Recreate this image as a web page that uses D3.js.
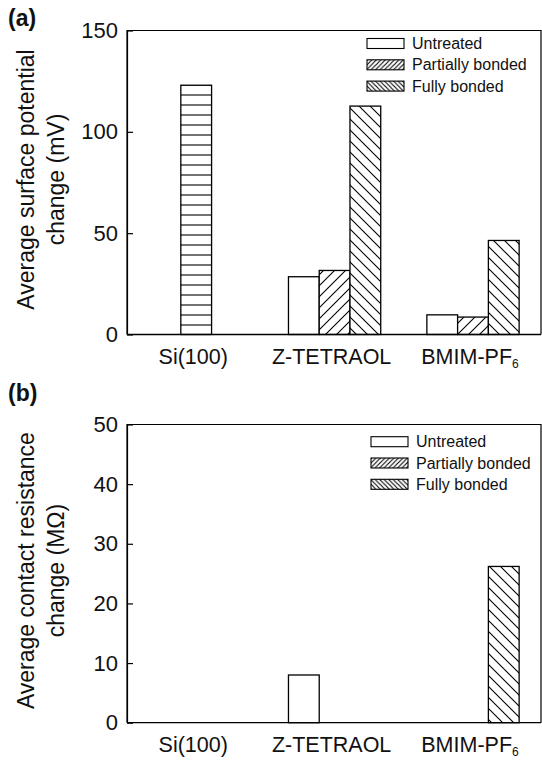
<!DOCTYPE html>
<html>
<head>
<meta charset="utf-8">
<script src="https://cdn.jsdelivr.net/npm/d3@7"></script>
<style>
  html, body { margin: 0; padding: 0; background: #fff; }
  svg { display: block; font-family: "Liberation Sans", Arial, sans-serif; }
</style>
</head>
<body>
<svg id="chart" width="542" height="760"></svg>
<script>
// Sample groups along the x axis
const categories = ["Si(100)", "Z-TETRAOL", "BMIM-PF6"];
const series = ["Untreated", "Partially bonded", "Fully bonded"];

// (a) Average surface potential change, mV
const potentialBareSi = [123, null, null];
const potentialUntreated = [null, 28.5, 9.7];
const potentialPartial = [null, 31.6, 8.6];
const potentialFully = [null, 112.7, 46.4];
const potentialTicks = [0, 50, 100, 150];

// (b) Average contact resistance change, MΩ
const resistanceBareSi = [0, null, null];
const resistanceUntreated = [null, 8.0, 0];
const resistancePartial = [null, 0, 0];
const resistanceFully = [null, 0, 26.2];
const resistanceTicks = [0, 10, 20, 30, 40, 50];

const FONT = "Liberation Sans, Arial, sans-serif";
const svg = d3.select("#chart");
const defs = svg.append("defs");

// Hatch fills: horizontal (bare Si), "/" (partially bonded), "\" (fully bonded)
function hatch(id, size, kind) {
  const p = defs.append("pattern")
    .attr("id", id)
    .attr("patternUnits", "userSpaceOnUse")
    .attr("width", size).attr("height", size);
  p.append("rect").attr("width", size).attr("height", size).attr("fill", "#fff");
  let d;
  if (kind === "h") d = `M0,${size / 2}H${size}`;
  else if (kind === "f") d = `M${-size},${size}L${size},${-size}M0,${2 * size}L${2 * size},0M0,${size}L${size},0`;
  else d = `M${-size},0L${size},${2 * size}M0,${-size}L${2 * size},${size}M0,0L${size},${size}`;
  p.append("path").attr("d", d).attr("stroke", "#000").attr("stroke-width", 1.1).attr("fill", "none");
  return `url(#${id})`;
}
const fills = {
  bare: hatch("hBare", 10, "h"),
  "Untreated": "#fff",
  "Partially bonded": hatch("hPart", 11, "f"),
  "Fully bonded": hatch("hFull", 11, "b")
};
const legendFills = {
  "Untreated": "#fff",
  "Partially bonded": hatch("lPart", 4.5, "f"),
  "Fully bonded": hatch("lFull", 4.5, "b")
};

const left = 127, right = 541;
const x = d3.scaleBand().domain(categories).range([left, left + 3 * 138.4]).padding(0);
const xs = d3.scaleBand().domain(series).range([0, x.bandwidth()]).paddingInner(0).paddingOuter(0.75);

function panel(cfg) {
  const y = d3.scaleLinear().domain([0, cfg.max]).range([cfg.bottom, cfg.top]);
  const g = svg.append("g");

  // bars
  const rows = [];
  categories.forEach((c, i) => {
    if (cfg.bare[i] != null) rows.push({ c, s: "Partially bonded", v: cfg.bare[i], fill: fills.bare });
    series.forEach((s, k) => {
      const v = cfg.values[k][i];
      if (v != null) rows.push({ c, s, v, fill: fills[s] });
    });
  });
  g.selectAll("rect.bar").data(rows).join("rect")
    .attr("class", "bar")
    .attr("x", d => x(d.c) + xs(d.s))
    .attr("width", xs.bandwidth())
    .attr("y", d => y(d.v))
    .attr("height", d => y(0) - y(d.v))
    .attr("fill", d => d.fill)
    .attr("stroke", "#000")
    .attr("stroke-width", 1.3);

  // frame
  g.append("path")
    .attr("d", `M${left},${cfg.bottom}V${cfg.top}H${right}V${cfg.bottom}`)
    .attr("fill", "none").attr("stroke", "#000").attr("stroke-width", 1.2);

  // y axis
  const ay = g.append("g").attr("transform", `translate(${left},0)`)
    .call(d3.axisLeft(y).tickValues(cfg.ticks).tickSizeInner(-6).tickSizeOuter(0).tickPadding(9));
  ay.select(".domain").attr("stroke", "#000").attr("stroke-width", 1.2);
  ay.selectAll(".tick line").attr("stroke", "#000").attr("stroke-width", 1.2);
  ay.selectAll(".tick text").attr("font-size", 22).attr("fill", "#111").attr("font-family", FONT);

  // x axis (labels only)
  const ax = g.append("g").attr("transform", `translate(0,${cfg.bottom})`)
    .call(d3.axisBottom(x).tickSize(0).tickFormat(""));
  ax.select(".domain").attr("stroke", "#000").attr("stroke-width", 1.3).attr("d", `M${left},0H${right}`);
  ax.selectAll(".tick").each(function (c) {
    const t = d3.select(this).append("text")
      .attr("x", -3).attr("y", 29).attr("fill", "#111").attr("text-anchor", "middle")
      .attr("font-size", 21.5).attr("font-family", FONT);
    if (c.endsWith("6")) {
      t.append("tspan").text(c.slice(0, -1));
      t.append("tspan").text("6").attr("font-size", 12).attr("dy", 4);
    } else t.text(c);
  });

  // y title
  const cy = (cfg.top + cfg.bottom) / 2 - 3;
  cfg.title.forEach((line, i) => {
    g.append("text")
      .attr("transform", `translate(${34 + i * 30},${cy}) rotate(-90)`)
      .attr("text-anchor", "middle").attr("font-size", 23).attr("fill", "#111")
      .text(line);
  });

  // panel letter
  g.append("text").attr("x", 8).attr("y", cfg.letterY)
    .attr("font-size", 23).attr("font-weight", "bold").attr("fill", "#111")
    .text(cfg.letter);

  // legend
  const lg = g.append("g").attr("transform", `translate(${cfg.legendX},${cfg.legendY})`);
  series.forEach((s, k) => {
    const r = lg.append("g").attr("transform", `translate(0,${k * 21.3})`);
    r.append("rect").attr("x", 0).attr("y", -5).attr("width", 37).attr("height", 10)
      .attr("fill", legendFills[s]).attr("stroke", "#000").attr("stroke-width", 1.1);
    r.append("text").attr("x", 45).attr("y", 0).attr("dy", "0.35em")
      .attr("font-size", 16).attr("fill", "#111").text(s);
  });
}

panel({
  letter: "(a)", letterY: 26, top: 30.5, bottom: 334.5, max: 150, ticks: potentialTicks,
  bare: potentialBareSi,
  values: [potentialUntreated, potentialPartial, potentialFully],
  title: ["Average surface potential", "change (mV)"],
  legendX: 367, legendY: 43.5
});

panel({
  letter: "(b)", letterY: 401, top: 424.5, bottom: 722.7, max: 50, ticks: resistanceTicks,
  bare: resistanceBareSi,
  values: [resistanceUntreated, resistancePartial, resistanceFully],
  title: ["Average contact resistance", "change (MΩ)"],
  legendX: 371, legendY: 441.7
});
</script>
</body>
</html>
